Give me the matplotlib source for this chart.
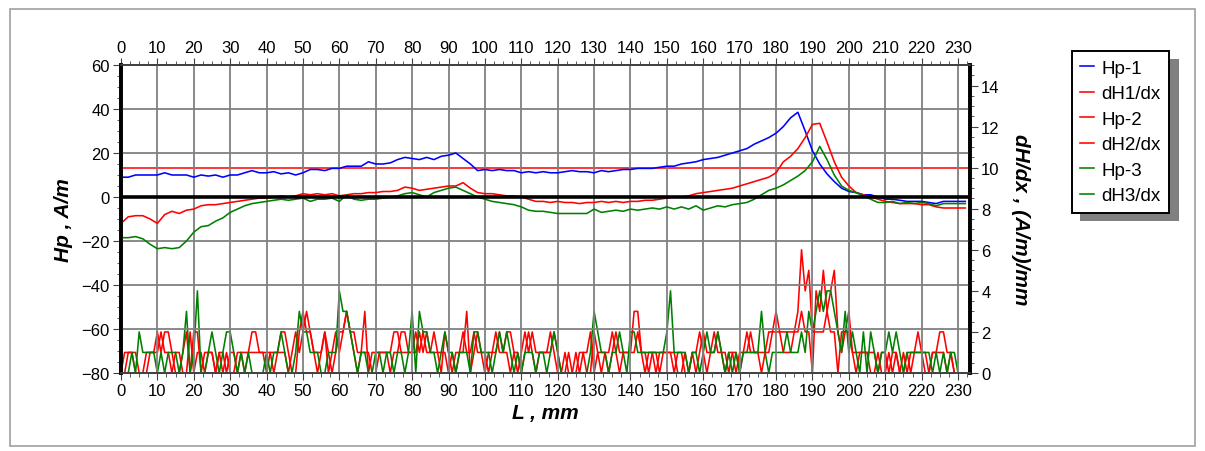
import numpy as np
import matplotlib
matplotlib.use("Agg")
import matplotlib.pyplot as plt
from matplotlib.patches import Rectangle
from matplotlib.ticker import MultipleLocator

plt.rcParams["font.family"] = ["Liberation Sans", "DejaVu Sans"]

# Field profiles, sampled every 2 mm (0..232 mm)
L_field = np.arange(0, 233, 2)
hp1 = [9, 9, 10, 10, 10, 10, 11, 10, 10, 10,
       9, 10, 9.5, 10, 9, 10, 10, 11, 12, 11,
       11, 11.5, 10.5, 11, 10, 11, 12.5, 12.5, 12, 13,
       13, 14, 14, 14, 16, 15, 15, 15.5, 17, 18,
       17.5, 17, 18, 17, 18.5, 19, 20, 17.5, 15, 12,
       12.5, 12, 12.5, 12, 12, 11, 11.5, 11, 11.5, 11,
       11, 11.5, 12, 11.5, 11.5, 11, 12, 11.5, 12, 12.5,
       12.5, 13, 13, 13, 13.5, 14, 14, 15, 15.5, 16,
       17, 17.5, 18, 19, 20, 21, 22, 24, 25.5, 27,
       29, 32, 36, 38.5, 30, 21, 15, 10.5, 7, 4,
       2.5, 2, 1, 1, 0, -1, -1, -1.5, -2, -2,
       -2, -2.5, -3, -2, -2, -2, -2]
hp2 = [-12, -9, -8.5, -8.5, -10, -12, -8, -6.5, -7.5, -6,
       -5.5, -4, -3.5, -3.5, -3, -2.5, -2, -1.5, -1, -0.5,
       -0.5, 0, 0.5, 0, 0.5, 1.5, 1, 1.5, 1, 1.5,
       0.5, 1, 1.5, 1.5, 2, 2, 2.5, 2.5, 3, 4.5,
       4, 3, 3.5, 4, 4.5, 5, 5, 6.5, 4, 2,
       1.5, 1.5, 1, 0.5, 0.5, 0, -1, -2, -2, -2.5,
       -2, -2.5, -2.5, -3, -2.5, -2.5, -2, -2.5, -2, -2.5,
       -2, -2, -1.5, -1.5, -1, -0.5, 0, 0, 0.5, 1.5,
       2, 2.5, 3, 3.5, 4, 5, 6, 7, 8, 9,
       11, 16, 18.5, 22, 27, 33, 33.5, 25, 16, 9,
       5, 2, 1, 0, -1, -2, -2.5, -3, -3, -3,
       -3.5, -3.5, -4.5, -5, -5, -5, -5]
hp3 = [-18.5, -18.5, -18, -19, -21.5, -23.5, -23, -23.5, -23, -20,
       -16, -13.5, -13, -11, -9.5, -7, -5.5, -4, -3, -2.5,
       -2, -1.5, -1, -1.5, -1, -0.5, -2, -1, -1, -0.5,
       -2, 1, -1, -1.5, -1, -1, -0.5, 0, 0.5, 1.5,
       2, 1, 0, 2, 3, 4, 4.5, 3, 1.5, 0,
       -1, -2, -2.5, -3, -3.5, -4.5, -6, -6.5, -6.5, -7,
       -7.5, -7.5, -7.5, -7.5, -7.5, -5.5, -7, -6.5, -6, -6.5,
       -5.5, -6, -5.5, -5, -5.5, -4.5, -5.5, -4.5, -5.5, -4,
       -6, -5, -4, -4.5, -3.5, -3, -2.5, -1, 1, 3,
       4, 5.5, 7.5, 9.5, 12, 16, 23, 17, 10, 5,
       3, 2, 0.5, -1, -2.5, -2.5, -2, -3, -2.5, -3,
       -2.5, -3, -4, -3, -3, -3, -3]

# Gradients, sampled every 1 mm (0..230 mm)
L_grad = np.arange(0, 231, 1)
dh1 = [0, 1, 1, 1, 0, 0, 0, 1, 1, 1,
       2, 1, 2, 2, 1, 0, 0, 1, 2, 0,
       2, 2, 0, 1, 1, 1, 0, 1, 1, 0,
       1, 1, 0, 1, 1, 1, 2, 2, 1, 1,
       0, 1, 1, 1, 2, 2, 1, 0, 0, 2,
       3, 2, 2, 1, 1, 1, 2, 0, 1, 2,
       1, 2, 3, 2, 2, 1, 1, 3, 0, 1,
       1, 1, 1, 1, 0, 1, 1, 2, 2, 1,
       1, 1, 2, 1, 2, 1, 1, 1, 0, 2,
       1, 0, 1, 1, 1, 3, 0, 1, 2, 1,
       1, 0, 1, 2, 1, 1, 2, 2, 1, 0,
       1, 2, 1, 2, 1, 1, 1, 1, 2, 1,
       0, 0, 0, 1, 0, 0, 1, 1, 0, 0,
       2, 1, 1, 1, 0, 1, 2, 1, 1, 1,
       1, 3, 3, 1, 0, 1, 1, 0, 1, 1,
       1, 1, 0, 1, 1, 0, 0, 1, 0, 1,
       2, 1, 1, 1, 2, 1, 0, 1, 1, 0,
       1, 1, 1, 2, 1, 1, 0, 1, 2, 2,
       3, 2, 2, 2, 2, 2, 3, 6, 4, 5,
       2, 2, 2, 2, 3, 2, 2, 0, 2, 2,
       3, 1, 1, 1, 1, 1, 0, 0, 1, 0,
       0, 1, 0, 1, 0, 0, 1, 0, 1, 2,
       1, 0, 0, 1, 1, 2, 2, 1, 1, 0, 0]
dh2 = [0, 0, 1, 1, 1, 0, 0, 0, 1, 1,
       1, 2, 1, 1, 0, 1, 1, 0, 0, 2,
       0, 1, 1, 0, 1, 1, 0, 1, 0, 1,
       0, 0, 1, 1, 0, 1, 1, 1, 1, 1,
       1, 1, 0, 1, 1, 1, 0, 1, 2, 1,
       2, 3, 2, 1, 0, 1, 2, 1, 0, 1,
       2, 2, 3, 2, 1, 0, 1, 1, 1, 0,
       0, 1, 1, 1, 1, 2, 2, 1, 1, 1,
       1, 2, 1, 2, 1, 1, 2, 1, 1, 1,
       0, 1, 0, 1, 2, 1, 1, 2, 1, 1,
       0, 1, 1, 1, 2, 1, 1, 0, 1, 1,
       0, 1, 2, 1, 0, 1, 1, 1, 1, 2,
       1, 0, 1, 0, 0, 1, 0, 1, 1, 2,
       0, 1, 0, 1, 1, 2, 1, 0, 1, 1,
       1, 1, 2, 1, 1, 0, 1, 1, 0, 1,
       1, 1, 1, 0, 0, 1, 0, 1, 1, 2,
       1, 0, 1, 2, 1, 1, 1, 0, 1, 1,
       0, 1, 2, 1, 1, 1, 1, 1, 1, 2,
       2, 2, 1, 1, 1, 2, 2, 3, 2, 2,
       0, 4, 3, 5, 3, 4, 5, 2, 1, 2,
       2, 1, 0, 1, 1, 1, 1, 1, 0, 1,
       1, 0, 1, 1, 0, 1, 0, 1, 1, 1,
       1, 1, 0, 1, 1, 1, 1, 0, 1, 0, 0]
dh3 = [0, 0, 0, 1, 0, 2, 1, 1, 1, 1,
       0, 1, 0, 1, 1, 1, 0, 1, 3, 0,
       1, 4, 0, 0, 1, 2, 1, 0, 1, 2,
       2, 1, 0, 1, 0, 1, 0, 0, 0, 0,
       1, 0, 1, 1, 2, 1, 0, 0, 1, 3,
       2, 2, 1, 1, 1, 0, 0, 1, 1, 1,
       4, 3, 3, 2, 1, 0, 1, 1, 0, 0,
       1, 1, 0, 1, 1, 0, 1, 1, 0, 1,
       3, 0, 3, 2, 2, 1, 1, 0, 1, 2,
       1, 1, 0, 1, 1, 1, 0, 2, 2, 1,
       1, 1, 0, 1, 2, 1, 2, 1, 0, 1,
       0, 1, 1, 1, 0, 1, 1, 0, 1, 2,
       1, 0, 0, 0, 0, 0, 0, 0, 0, 1,
       3, 2, 1, 1, 0, 1, 1, 2, 1, 0,
       2, 2, 1, 1, 1, 1, 1, 1, 1, 1,
       2, 4, 1, 1, 1, 1, 0, 1, 1, 0,
       1, 2, 1, 1, 2, 1, 0, 1, 0, 1,
       0, 1, 1, 1, 1, 1, 3, 1, 0, 1,
       1, 1, 1, 2, 1, 1, 1, 2, 1, 3,
       2, 3, 4, 3, 4, 4, 3, 2, 1, 3,
       1, 2, 1, 0, 2, 0, 2, 1, 0, 1,
       1, 2, 1, 2, 1, 0, 1, 1, 1, 1,
       1, 1, 1, 0, 1, 0, 1, 0, 1, 1, 0]

threshold = 10  # dH/dx level marked across the plot

fig = plt.figure(figsize=(12.05, 4.52), dpi=100)
fig.patches.append(Rectangle((0.008, 0.012), 0.984, 0.966, transform=fig.transFigure,
                             fill=False, edgecolor="#a0a0a0", linewidth=1.2))

ax = fig.add_axes([0.1004, 0.1726, 0.7046, 0.6814])
ax2 = ax.twinx()
ax.set_zorder(ax2.get_zorder() + 1)
ax.patch.set_visible(False)

lw = 1.15
l1, = ax.plot(L_field, hp1, color="#0000ff", lw=lw, label="Hp-1")
l3, = ax.plot(L_field, hp2, color="#ff0000", lw=lw, label="Hp-2")
l5, = ax.plot(L_field, hp3, color="#008000", lw=lw, label="Hp-3")
ax.axhline(0, color="black", lw=2.6, zorder=5)

l2, = ax2.plot(L_grad, dh1, color="#ff0000", lw=lw, label="dH1/dx")
l4, = ax2.plot(L_grad, dh2, color="#ff0000", lw=lw, label="dH2/dx")
l6, = ax2.plot(L_grad, dh3, color="#008000", lw=lw, label="dH3/dx")
ax2.axhline(threshold, color="#ff0000", lw=1.1)

ax.set_xlim(0, 233.3)
ax.set_ylim(-80, 60)
ax2.set_ylim(0, 15)

ax.xaxis.set_major_locator(MultipleLocator(10))
ax.xaxis.set_minor_locator(MultipleLocator(2.5))
ax.yaxis.set_major_locator(MultipleLocator(20))
ax.yaxis.set_minor_locator(MultipleLocator(5))
ax2.yaxis.set_major_locator(MultipleLocator(2))
ax2.yaxis.set_minor_locator(MultipleLocator(0.5))
ax2.set_yticks(np.arange(0, 15, 2))

ax.grid(True, which="major", color="#808080", lw=1.3)
ax2.grid(False)

ax.tick_params(axis="x", which="both", top=True, labeltop=True, direction="out",
               labelsize=12, pad=2, color="#404040")
ax.tick_params(axis="x", which="major", length=5)
ax.tick_params(axis="x", which="minor", length=3)
ax.tick_params(axis="y", which="both", direction="out", labelsize=12, pad=2, color="#404040")
ax.tick_params(axis="y", which="major", length=6)
ax.tick_params(axis="y", which="minor", length=3)
ax2.tick_params(axis="y", which="both", direction="out", labelsize=12, pad=2, color="#404040")
ax2.tick_params(axis="y", which="major", length=6)
ax2.tick_params(axis="y", which="minor", length=3)

for a in (ax, ax2):
    a.spines["left"].set_linewidth(2.6)
    a.spines["right"].set_linewidth(2.6)
    a.spines["top"].set_color("#404040")
    a.spines["bottom"].set_color("#404040")
    a.spines["top"].set_linewidth(1.3)
    a.spines["bottom"].set_linewidth(1.3)

ax.set_xlabel("L , mm", fontsize=15, fontweight="bold", fontstyle="italic", labelpad=4)
ax.set_ylabel("Hp , A/m", fontsize=15, fontweight="bold", fontstyle="italic", labelpad=6)
ax2.set_ylabel("dH/dx , (A/m)/mm", fontsize=15, fontweight="bold", fontstyle="italic",
               rotation=-90, labelpad=22)

# legend with a flat drop shadow
fig.patches.append(Rectangle((1080 / 1205, 1 - 222 / 452), 99 / 1205, 162 / 452,
                             transform=fig.transFigure, facecolor="#808080",
                             edgecolor="none", zorder=0))
leg = fig.legend([l1, l2, l3, l4, l5, l6],
                 ["Hp-1", "dH1/dx", "Hp-2", "dH2/dx", "Hp-3", "dH3/dx"],
                 loc="upper left", bbox_to_anchor=(1072 / 1205, 1 - 52 / 452),
                 fancybox=False, frameon=True, fontsize=13.5, handlelength=0.7,
                 handletextpad=0.4, labelspacing=0.45, borderpad=0.45,
                 borderaxespad=0)
leg.get_frame().set_edgecolor("black")
leg.get_frame().set_linewidth(1.4)
leg.get_frame().set_alpha(1)

fig.savefig("out.png", dpi=100)
